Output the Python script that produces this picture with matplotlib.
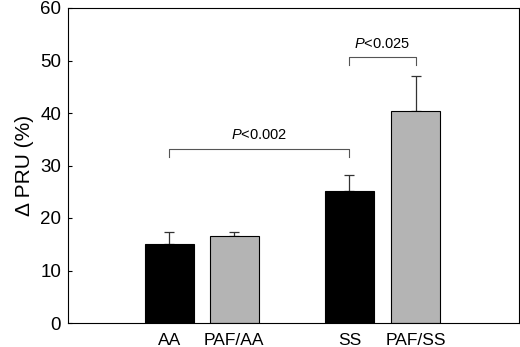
import matplotlib
matplotlib.use('Agg')
import matplotlib.pyplot as plt

groups = ['AA', 'PAF/AA', 'SS', 'PAF/SS']
means = [15.0, 16.6, 25.2, 40.4]
errors = [2.4, 0.8, 3.0, 6.7]
bar_colors = ['black', '#b4b4b4', 'black', '#b4b4b4']
positions = [1, 2, 3.77, 4.79]

# significance brackets: (left group, right group, height, label)
brackets = [(0, 2, 33.2, '<0.002'), (2, 3, 50.7, '<0.025')]


def main():
    plt.rcParams['font.family'] = ['Liberation Sans', 'DejaVu Sans']
    plt.rcParams['mathtext.fontset'] = 'custom'
    plt.rcParams['mathtext.it'] = 'Liberation Sans:italic'
    plt.rcParams['mathtext.rm'] = 'Liberation Sans'
    fig = plt.figure(figsize=(5.2, 3.47), dpi=100)
    ax = fig.add_axes([68 / 520, 24 / 347, 451 / 520, 315 / 347])

    ax.bar(positions, means, width=0.75, color=bar_colors,
           edgecolor='black', linewidth=0.8, zorder=2)
    ax.errorbar(positions, means, yerr=[[0] * 4, errors], fmt='none',
                ecolor='#333333', elinewidth=0.9, capsize=3.5,
                capthick=0.9, zorder=1)

    for i, j, h, lab in brackets:
        x1, x2 = positions[i], positions[j]
        ax.plot([x1, x1, x2, x2], [h - 1.5, h, h, h - 1.5],
                color='#555555', lw=0.8, clip_on=False)
        ax.text((x1 + x2) / 2, h + 1.2, r'$\mathit{P}$' + lab,
                ha='center', va='bottom', fontsize=10.5)

    ax.set_xlim(-0.56, 6.38)
    ax.set_ylim(0, 60)
    ax.set_yticks(range(0, 61, 10))
    ax.set_xticks(positions)
    ax.set_xticklabels(groups, fontsize=12.5)
    ax.tick_params(axis='y', direction='in', length=3, labelsize=13.5, pad=5)
    ax.tick_params(axis='x', length=0, pad=7)
    ax.set_ylabel('\u0394 PRU (%)', fontsize=15, labelpad=4)
    for s in ax.spines.values():
        s.set_linewidth(0.8)

    fig.savefig('out.png', dpi=100)


if __name__ == '__main__':
    main()
